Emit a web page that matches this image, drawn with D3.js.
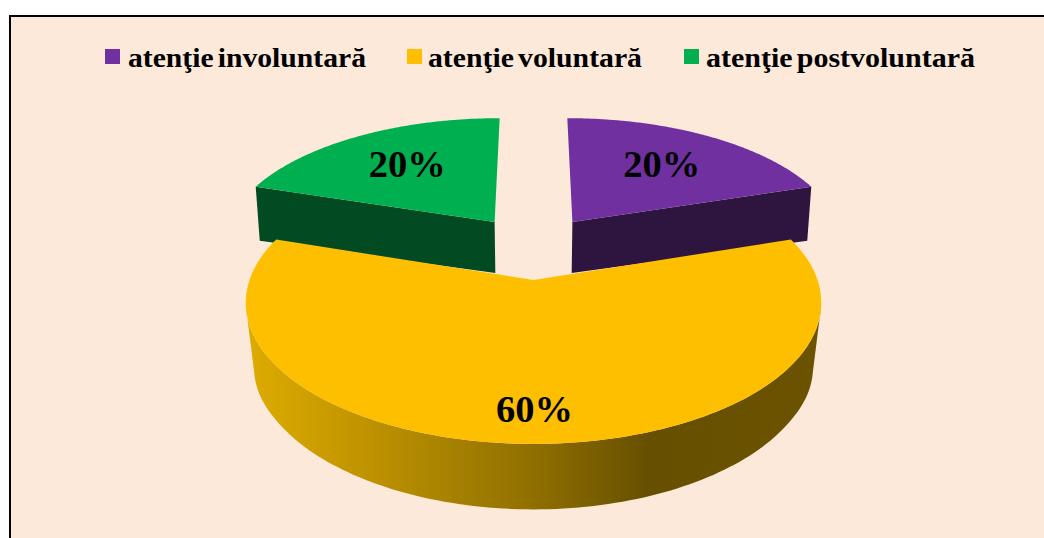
<!DOCTYPE html>
<html><head><meta charset="utf-8">
<style>html,body{margin:0;padding:0;background:#fff;overflow:hidden}svg{display:block}text{font-family:"Liberation Serif",serif;font-weight:bold;fill:#000}</style>
<script src="https://cdn.jsdelivr.net/npm/d3@7"></script>
</head><body><svg id="c" width="1044" height="538"></svg>
<script>
(function(){
const categories = ["atenţie involuntară", "atenţie voluntară", "atenţie postvoluntară"];
const values = [20, 60, 20];
const colors = ["#7030a0", "#fdbf00", "#00b050"];
const wallColors = ["#2d153f", "url(#wallGrad)", "#024a22"];

const W = 1044, H = 538;
const svg = d3.select("#c");
svg.append("rect").attr("x", 10).attr("y", 16).attr("width", W + 40).attr("height", H + 40)
  .attr("fill", "#fde9d9").attr("stroke", "#000").attr("stroke-width", 2);

// perspective projection of the pie plane
const cx = 533.5, cy = 280, A = 284, B = 137.5, k = 0.161;
const k2 = 0.13;
const lowerA = d3.scaleLinear().domain([-1, 0.76]).range([280, 274]);
const depth = d3.scaleLinear().domain([-1, -0.5, -0.16, 0.45, 0.76]).range([65.5, 65, 68, 51, 54]);
const upper = (u, v) => [cx + A * u / (1 + k * v), cy - B * v / (1 + k * v)];
const lower = (u, v) => [cx + lowerA(v) * u / (1 + k2 * v), upper(u, v)[1] + depth(v)];

const explode = 0.25;
const arcs = d3.pie().sort(null).value(d => d).startAngle(0).endAngle(2 * Math.PI)(values);
const line = d3.line();

const defs = svg.append("defs");
const grad = defs.append("linearGradient").attr("id", "wallGrad").attr("gradientUnits", "userSpaceOnUse")
  .attr("x1", 245).attr("x2", 822).attr("y1", 0).attr("y2", 0);
[[0, "#deac00"], [0.18, "#c49700"], [0.5, "#8f6f00"], [0.7, "#664f00"], [1, "#6b5300"]]
  .forEach(s => grad.append("stop").attr("offset", s[0]).attr("stop-color", s[1]));

function geom(a) {
  const mid = (a.startAngle + a.endAngle) / 2;
  const u0 = explode * Math.sin(mid), v0 = explode * Math.cos(mid) + explode;
  const n = 160;
  const rim = d3.range(n + 1).map(i => {
    const t = a.startAngle + (a.endAngle - a.startAngle) * i / n;
    return [u0 + Math.sin(t), v0 + Math.cos(t)];
  });
  return { mid, u0, v0, rim };
}

// draw back slices first, yellow last
const order = [0, 2, 1];
order.forEach(i => {
  const a = arcs[i], g = geom(a), f = wallColors[i], c = colors[i];
  const P = p => upper(p[0], p[1]), Q = p => lower(p[0], p[1]);
  const center = [g.u0, g.v0];
  if (i === 1) {
    // only the front part, between the two tangent points of the rim, is a wall
    const front = g.rim.filter(p => p[1] <= -k);
    svg.append("path").attr("d", line(front.map(P).concat(front.slice().reverse().map(Q))) + "Z").attr("fill", f);
  } else {
    // the outer cut face of each back slice
    const p = i === 0 ? g.rim[g.rim.length - 1] : g.rim[0];
    svg.append("path").attr("d", line([P(center), P(p), Q(p), Q(center)]) + "Z").attr("fill", f);
  }
  svg.append("path").attr("d", line([P(center)].concat(g.rim.map(P))) + "Z").attr("fill", c);
});

// data labels
arcs.forEach((a, i) => {
  const g = geom(a), r = i === 1 ? 0.82 : 0.63;
  const p = upper(g.u0 + r * Math.sin(g.mid), g.v0 + r * Math.cos(g.mid));
  svg.append("text").attr("x", p[0] - 37.5).attr("y", p[1] - 1).attr("dy", "0.35em")
    .attr("textLength", 77).attr("lengthAdjust", "spacingAndGlyphs")
    .style("font-size", "37px").text(values[i] + "%");
});

// legend
const legendSwatch = [105, 407, 684];
const legendText = [[128, 238], [428, 214], [706, 269]];
categories.forEach((name, i) => {
  svg.append("rect").attr("x", legendSwatch[i]).attr("y", 49).attr("width", 15).attr("height", 15).attr("fill", colors[i]);
  svg.append("text").attr("x", legendText[i][0]).attr("y", 66.5).style("font-size", "27px").style("word-spacing", "-3px")
    .attr("textLength", legendText[i][1]).attr("lengthAdjust", "spacingAndGlyphs").text(name);
});
})();
</script></body></html>
